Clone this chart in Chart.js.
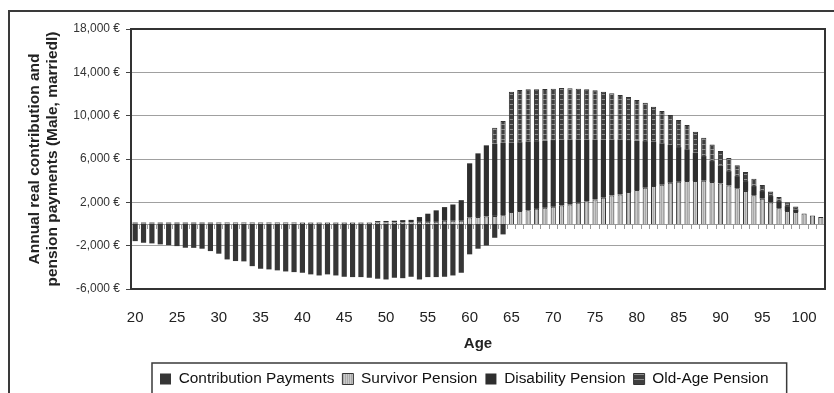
<!DOCTYPE html>
<html>
<head>
<meta charset="utf-8">
<script src="https://cdn.jsdelivr.net/npm/chart.js@4.4.1/dist/chart.umd.min.js"></script>
<style>
  html, body { margin: 0; padding: 0; background: #fff; }
  #wrap { width: 834px; height: 393px; }
</style>
</head>
<body>
<div id="wrap"><canvas id="pensionChart" width="834" height="393"></canvas></div>
<script>
// ages 20..102
const ages = [20, 21, 22, 23, 24, 25, 26, 27, 28, 29, 30, 31, 32, 33, 34, 35, 36, 37, 38, 39,
  40, 41, 42, 43, 44, 45, 46, 47, 48, 49, 50, 51, 52, 53, 54, 55, 56, 57, 58, 59,
  60, 61, 62, 63, 64, 65, 66, 67, 68, 69, 70, 71, 72, 73, 74, 75, 76, 77, 78, 79,
  80, 81, 82, 83, 84, 85, 86, 87, 88, 89, 90, 91, 92, 93, 94, 95, 96, 97, 98, 99,
  100, 101, 102];

const contributionPayments = [-1580, -1730, -1790, -1880, -1950, -2040, -2190, -2200, -2280, -2500,
  -2740, -3270, -3420, -3450, -3890, -4130, -4190, -4280, -4380, -4440,
  -4500, -4650, -4750, -4650, -4750, -4870, -4900, -4900, -4960, -5050,
  -5120, -4960, -5000, -4870, -5120, -4900, -4900, -4870, -4750, -4500,
  -2800, -2280, -1980, -1270, -960, 0, 0, 0, 0, 0,
  0, 0, 0, 0, 0, 0, 0, 0, 0, 0,
  0, 0, 0, 0, 0, 0, 0, 0, 0, 0,
  0, 0, 0, 0, 0, 0, 0, 0, 0, 0,
  0, 0, 0];

const survivorPension = [50, 50, 50, 50, 50, 50, 50, 50, 50, 50,
  80, 80, 80, 80, 80, 80, 80, 80, 80, 80,
  100, 100, 100, 100, 100, 100, 100, 100, 100, 150,
  150, 150, 150, 150, 200, 200, 200, 300, 300, 300,
  600, 650, 700, 750, 800, 1100, 1190, 1280, 1400, 1500,
  1590, 1710, 1800, 1960, 2110, 2270, 2430, 2640, 2730, 2950,
  3130, 3350, 3500, 3630, 3810, 3900, 3960, 3960, 4000, 3880,
  3750, 3560, 3300, 3050, 2650, 2340, 1990, 1450, 1200, 1100,
  980, 790, 650];

const disabilityPension = [80, 80, 80, 80, 80, 80, 80, 80, 80, 80,
  50, 50, 50, 50, 50, 50, 50, 50, 50, 50,
  30, 30, 30, 30, 30, 30, 30, 30, 30, 120,
  130, 150, 210, 230, 440, 750, 1060, 1260, 1500, 1900,
  5000, 5870, 6560, 6650, 6700, 6400, 6360, 6320, 6250, 6200,
  6160, 6090, 6000, 5840, 5690, 5530, 5370, 5160, 5070, 4800,
  4570, 4300, 4100, 3820, 3490, 3200, 2940, 2620, 2270, 1930,
  1660, 1320, 1120, 910, 850, 700, 590, 660, 450, 250,
  0, 0, 0];

const oldAgePension = [0, 0, 0, 0, 0, 0, 0, 0, 0, 0,
  0, 0, 0, 0, 0, 0, 0, 0, 0, 0,
  0, 0, 0, 0, 0, 0, 0, 0, 0, 0,
  0, 0, 0, 0, 0, 0, 0, 0, 0, 0,
  0, 0, 0, 1490, 2000, 4710, 4810, 4830, 4780, 4760,
  4740, 4750, 4720, 4690, 4630, 4540, 4410, 4260, 4100, 3970,
  3740, 3550, 3230, 2980, 2760, 2500, 2230, 1940, 1700, 1540,
  1320, 1220, 1010, 850, 680, 550, 420, 390, 350, 270,
  0, 0, 0];

const yTitle = ['Annual real contribution and', 'pension payments (Male, marriedl)'];

Chart.defaults.font.family = '"Liberation Sans", Arial, sans-serif';

function makePattern(w, h, bg, fg, rects) {
  const c = document.createElement('canvas');
  c.width = w; c.height = h;
  const g = c.getContext('2d');
  g.fillStyle = bg; g.fillRect(0, 0, w, h);
  g.fillStyle = fg;
  rects.forEach(r => g.fillRect(r[0], r[1], r[2], r[3]));
  return g.createPattern(c, 'repeat');
}
const survivorFill = makePattern(2, 1, '#cacaca', '#a9a9a9', [[1, 0, 1, 1]]);
const oldAgeFill = makePattern(1, 5, '#3f3f3f', '#8e8e8e', [[0, 4, 1, 1]]);

const framePlugin = {
  id: 'frames',
  beforeDraw(chart) {
    const c = chart.ctx;
    c.save();
    c.fillStyle = '#fff';
    c.fillRect(0, 0, chart.width, chart.height);
    c.strokeStyle = '#3a3a3a';
    c.lineWidth = 2;
    c.strokeRect(9, 11, chart.width + 20, chart.height + 20);
    c.restore();
    // legend sits inside its own box, left of centre
    const lg = chart.legend;
    const pad = lg.options.labels.padding;
    lg.left = 160 - pad;
    lg.right = chart.width + 200;
    lg.top = 379 - 7.7 - pad;
  },
  afterDatasetsDraw(chart) {
    const c = chart.ctx, a = chart.chartArea;
    c.save();
    c.strokeStyle = '#333';
    c.lineWidth = 2;
    c.strokeRect(a.left, a.top, a.right - a.left, a.bottom - a.top);
    c.restore();
  },
  afterDraw(chart) {
    const lg = chart.legend;
    const pad = lg.options.labels.padding;
    let total = 0;
    lg.legendHitBoxes.forEach((hb, i) => { total += hb.width + (i ? pad : 0); });
    const c = chart.ctx;
    c.save();
    c.strokeStyle = '#3a3a3a';
    c.lineWidth = 1.5;
    c.strokeRect(152, 363, total + 26, 60);
    c.restore();
  }
};

new Chart(document.getElementById('pensionChart'), {
  type: 'bar',
  data: {
    labels: ages,
    datasets: [
      { label: 'Contribution Payments', data: contributionPayments, backgroundColor: '#363636', borderWidth: 0 },
      { label: 'Survivor Pension', data: survivorPension, backgroundColor: survivorFill, borderColor: '#333', borderWidth: 1 },
      { label: 'Disability Pension', data: disabilityPension, backgroundColor: '#2e2e2e', borderWidth: 0 },
      { label: 'Old-Age Pension', data: oldAgePension, backgroundColor: oldAgeFill, borderColor: '#333', borderWidth: 1 }
    ]
  },
  options: {
    responsive: false,
    animation: false,
    devicePixelRatio: 1,
    layout: { padding: { left: 9, right: 9, top: 29, bottom: 0 } },
    datasets: { bar: { barPercentage: 0.62, categoryPercentage: 1 } },
    plugins: {
      tooltip: { enabled: false },
      legend: {
        position: 'bottom',
        align: 'start',
        labels: { boxWidth: 11, boxHeight: 11, padding: 8, color: '#111', font: { size: 15.4 } }
      }
    },
    scales: {
      x: {
        stacked: true,
        grid: { display: false },
        border: { display: false },
        ticks: {
          autoSkip: false, maxRotation: 0, padding: 12, color: '#222', font: { size: 15 },
          callback: (v, i) => (ages[i] % 5 === 0 ? String(ages[i]) : '')
        },
        title: { display: true, text: 'Age', color: '#222', font: { size: 15, weight: 'bold' }, padding: { top: 0, bottom: 7 } },
        afterFit(s) { s.height = s.chart.height - 289 - s.chart.legend.height; }
      },
      x2: {
        type: 'category',
        position: { y: 0 },
        offset: true,
        grid: { offset: true, drawOnChartArea: false, drawTicks: true, tickLength: 4, color: '#999' },
        border: { display: true, color: '#999', width: 1 },
        ticks: { display: false }
      },
      y: {
        stacked: true,
        min: -6000,
        max: 18000,
        ticks: {
          stepSize: 4000, padding: 6, color: '#333', font: { size: 12 },
          callback: v => v.toLocaleString('en-US') + ' €'
        },
        grid: { color: '#a0a0a0', lineWidth: 1, tickLength: 5, tickColor: '#444' },
        border: { display: false },
        title: { display: true, text: yTitle, color: '#222', font: { size: 15.5, weight: 'bold' }, padding: { top: 16, bottom: 0 } },
        afterFit(s) { s.width = 122; }
      }
    }
  },
  plugins: [framePlugin]
});
</script>
</body>
</html>
